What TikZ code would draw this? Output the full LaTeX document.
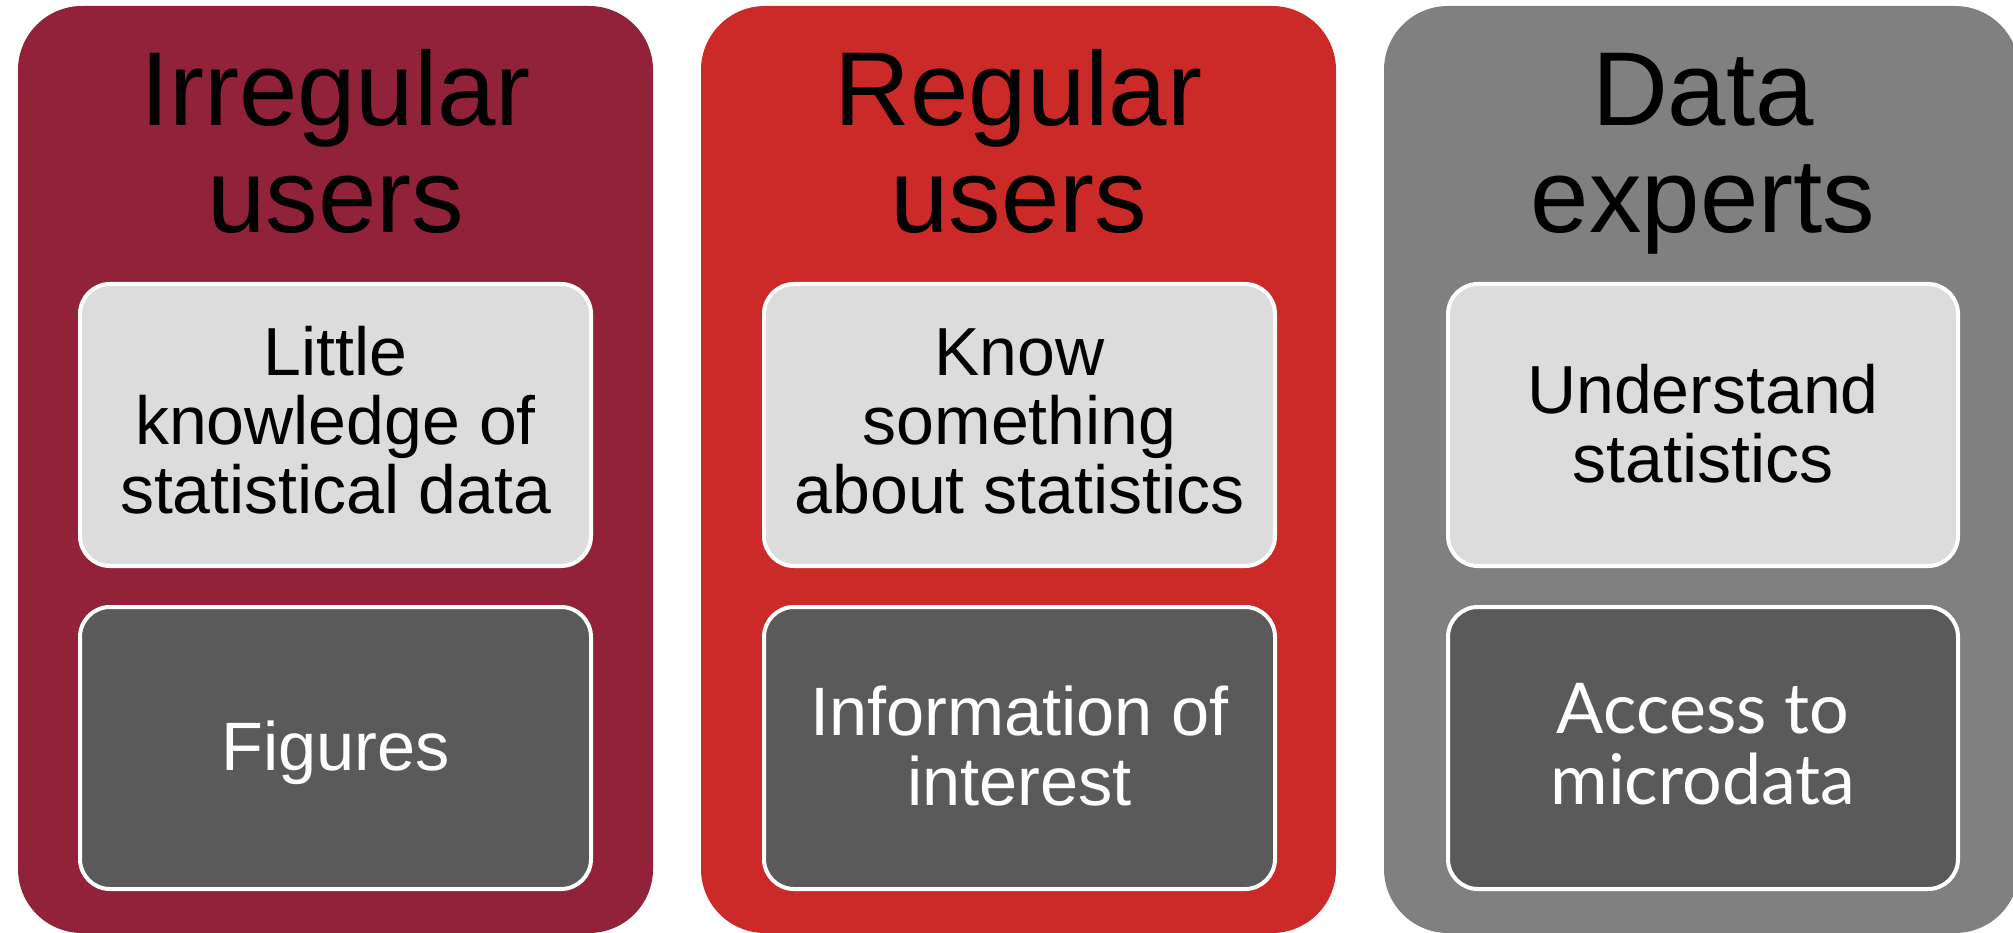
\documentclass[tikz,border=0pt]{standalone}
\usepackage{fontspec}
\setmainfont{Liberation Sans}
\newfontfamily\gillfont{Lato}
\definecolor{maroonbox}{HTML}{92223A}
\definecolor{redbox}{HTML}{CC2929}
\definecolor{greybox}{HTML}{808080}
\definecolor{lightin}{HTML}{DCDCDC}
\definecolor{darkin}{HTML}{5A5A5A}
\tikzset{
  outerbox/.style={rounded corners=64pt, draw=none},
  innerbox/.style={rounded corners=30pt, draw=white, line width=4pt},
  titletext/.style={anchor=base, align=center, text=black, inner sep=0pt, font=\fontsize{105}{107}\selectfont},
  lighttext/.style={anchor=base, align=center, text=black, inner sep=0pt, font=\fontsize{68}{69}\selectfont},
  darktext/.style={anchor=base, align=center, text=white, inner sep=0pt, font=\fontsize{68.5}{70}\selectfont},
}
\begin{document}
\begin{tikzpicture}[x=1pt,y=-1pt]
\useasboundingbox (0,0) rectangle (2013,933);
\clip (0,0) rectangle (2013,933);
\fill[white] (0,0) rectangle (2013,933);
% outer columns
\fill[outerbox, maroonbox] (18,6) rectangle (653,933);
\fill[outerbox, redbox] (701,6) rectangle (1336,933);
\fill[outerbox, greybox] (1384,6) rectangle (2019,933);
% inner boxes
\draw[innerbox, fill=lightin] (80,284) rectangle (591,566);
\draw[innerbox, fill=darkin] (80,607) rectangle (591,889);
\draw[innerbox, fill=lightin] (764,284) rectangle (1275,566);
\draw[innerbox, fill=darkin] (764,607) rectangle (1275,889);
\draw[innerbox, fill=lightin] (1448,284) rectangle (1958,566);
\draw[innerbox, fill=darkin] (1448,607) rectangle (1958,889);
% titles (anchor = baseline of last line)
\node[titletext] (t1) at (335.5,233) {Irregular\\users};
\node[titletext] (t2) at (1018.5,233) {Regular\\users};
\node[titletext] (t3) at (1703,233) {Data\\experts};
% light texts
\node[lighttext] (l1) at (335.5,513) {Little\\knowledge of\\statistical data};
\node[lighttext] (l2) at (1019.5,513) {Know\\something\\about statistics};
\node[lighttext] (l3) at (1703,482) {Understand\\statistics};
% dark texts
\node[darktext] (d1) at (335.5,770) {Figures};
\node[darktext] (d2) at (1019.5,805) {Information of\\interest};
\node[darktext, font=\gillfont\fontsize{70}{71}\selectfont] (d3) at (1703,804) {Access to\\microdata};
\end{tikzpicture}
\end{document}
